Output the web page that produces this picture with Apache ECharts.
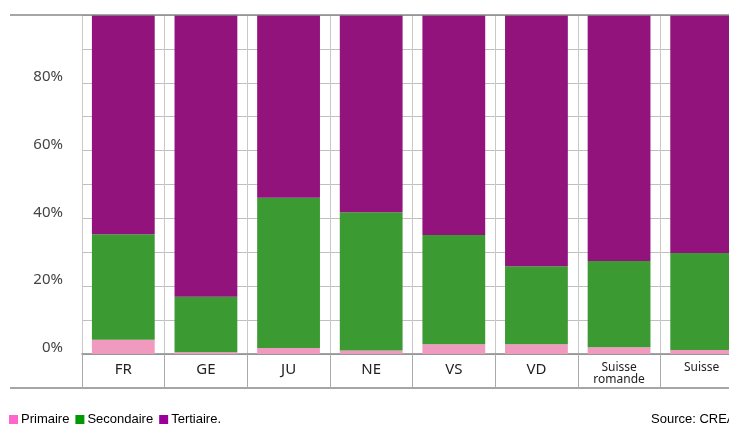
<!DOCTYPE html>
<html>
<head>
<meta charset="utf-8">
<script src="https://cdn.jsdelivr.net/npm/echarts@6/dist/echarts.min.js"></script>
<style>
  html, body { margin: 0; padding: 0; background: #fff; }
  #chart { width: 729px; height: 427px; }
</style>
</head>
<body>
<div id="chart"></div>
<script>
// cantons / regions
const categories = ['FR', 'GE', 'JU', 'NE', 'VS', 'VD', 'Suisse\nromande', 'Suisse']
// parts in %
const primaire = [4.2, 0.5, 1.8, 1.0, 2.9, 2.9, 2.0, 1.2]
const secondaire = [31.1, 16.4, 44.3, 40.8, 32.2, 23.0, 25.4, 28.6]
const tertiaire = [64.7, 83.1, 53.9, 58.2, 64.9, 74.1, 72.6, 70.2]
const yTicks = [0, 20, 40, 60, 80]

const chart = echarts.init(document.getElementById('chart'))

const option = {
  animation: false,
  textStyle: { fontFamily: 'Noto Sans' },
  grid: {
    left: 82,
    top: 15,
    width: 661,
    height: 339,
    outerBoundsMode: 'none'
  },
  legend: {
    left: 4,
    top: 408,
    itemWidth: 9,
    itemHeight: 9,
    itemGap: 6,
    icon: 'rect',
    textStyle: { fontFamily: 'Liberation Sans', fontSize: 13, color: '#000', padding: [0, 0, 0, -2] },
    data: [
      { name: 'Primaire', itemStyle: { color: '#ff66cc' } },
      { name: 'Secondaire', itemStyle: { color: '#009900' } },
      { name: 'Tertiaire.', itemStyle: { color: '#990099' } }
    ]
  },
  title: {
    text: 'Source: CREA',
    left: 646,
    top: 408,
    textStyle: { fontFamily: 'Liberation Sans', fontSize: 13, fontWeight: 'normal', color: '#000' }
  },
  xAxis: {
    type: 'category',
    data: categories.map(c => ({
      value: c,
      textStyle: c.startsWith('Suisse') ? { fontSize: 12, lineHeight: 12 } : {}
    })),
    boundaryGap: true,
    axisLine: { show: true, lineStyle: { color: '#888', width: 1.5 } },
    axisTick: { show: true, length: 34, lineStyle: { color: '#aaa' } },
    axisLabel: {
      margin: 8,
      fontSize: 15,
      color: '#222',
      interval: 0,
      verticalAlign: 'top',
      padding: [0, 0, 0, 0]
    },
    splitLine: { show: true, lineStyle: { color: '#c8c8c8' } }
  },
  yAxis: {
    type: 'value',
    min: 0,
    max: 100,
    interval: 10,
    axisLine: { show: false },
    axisTick: { show: false },
    axisLabel: {
      margin: 19,
      fontSize: 15,
      lineHeight: 12,
      color: '#444',
      verticalAlign: 'bottom',
      formatter: v => (yTicks.includes(v) ? v + '%' : '')
    },
    splitLine: { show: true, lineStyle: { color: '#c0c0c0' } }
  },
  series: [
    {
      name: 'Primaire',
      type: 'bar',
      stack: 'total',
      barCategoryGap: '24%',
      itemStyle: { color: '#f09ac0' },
      data: primaire
    },
    {
      name: 'Secondaire',
      type: 'bar',
      stack: 'total',
      itemStyle: { color: '#3c9a32' },
      data: secondaire
    },
    {
      name: 'Tertiaire.',
      type: 'bar',
      stack: 'total',
      itemStyle: { color: '#92137b' },
      data: tertiaire
    }
  ],
  // frame lines left of the plot
  graphic: [
    { type: 'line', shape: { x1: 10, y1: 15, x2: 729, y2: 15 }, style: { stroke: '#888', lineWidth: 1.5 }, z: 10 },
    { type: 'line', shape: { x1: 10, y1: 388, x2: 729, y2: 388 }, style: { stroke: '#888', lineWidth: 1.5 } }
  ]
}

chart.setOption(option)
</script>
</body>
</html>
